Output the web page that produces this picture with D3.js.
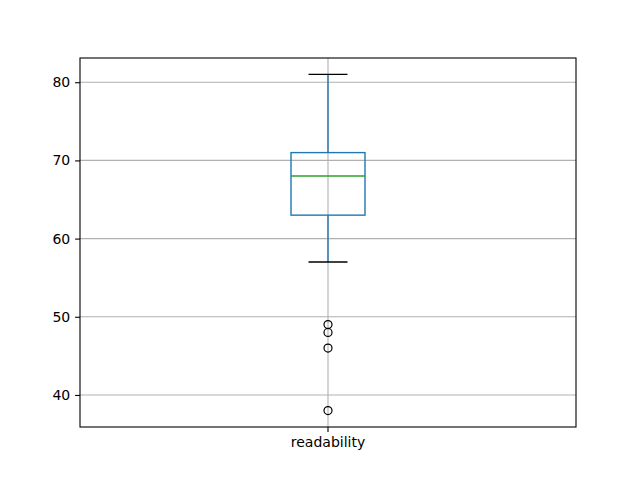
<!DOCTYPE html>
<html>
  <head>
    <meta charset="utf-8" />
    <title>readability boxplot</title>
    <script src="https://d3js.org/d3.v7.min.js"></script>
    <style>
      body { margin: 0; background: white; }
      text { font-family: "DejaVu Sans", sans-serif; font-size: 14px; fill: black; }
    </style>
  </head>
  <body>
    <svg id="viz"></svg>
    <script>

    // box stats
    var categories = ["readability"];
    var q1 = [63], median = [68], q3 = [71];
    var whiskerLow = [57], whiskerHigh = [81];
    var fliers = [[49, 48, 46, 38]];
    var yTicks = [40, 50, 60, 70, 80];

    var width = 640, height = 480;
    var margin = {top: 58, right: 64, bottom: 53, left: 80};

    var svg = d3.select("#viz")
      .attr("width", width)
      .attr("height", height);

    var x = d3.scaleBand()
      .domain(categories)
      .range([margin.left, width - margin.right]);

    var y = d3.scaleLinear()
      .domain([35.9, 83.1])
      .range([height - margin.bottom, margin.top]);

    var boxW = 74, capW = 39;

    // grid
    var grid = svg.append("g");
    grid.selectAll("line.h").data(yTicks).enter().append("line")
      .attr("x1", margin.left).attr("x2", width - margin.right)
      .attr("y1", function(d) { return y(d); }).attr("y2", function(d) { return y(d); })
      .attr("stroke", "#b0b0b0").attr("stroke-width", 1.1);
    grid.selectAll("line.v").data(categories).enter().append("line")
      .attr("x1", function(d) { return x(d) + x.bandwidth() / 2; })
      .attr("x2", function(d) { return x(d) + x.bandwidth() / 2; })
      .attr("y1", margin.top).attr("y2", height - margin.bottom)
      .attr("stroke", "#b0b0b0").attr("stroke-width", 1.1);

    var boxes = svg.selectAll("g.box").data(categories).enter().append("g")
      .attr("class", "box");

    boxes.each(function(c, i) {
      var g = d3.select(this);
      var cx = x(c) + x.bandwidth() / 2;

      // whiskers
      g.append("line").attr("x1", cx).attr("x2", cx)
        .attr("y1", y(q3[i])).attr("y2", y(whiskerHigh[i]))
        .attr("stroke", "#1f77b4").attr("stroke-width", 1.4);
      g.append("line").attr("x1", cx).attr("x2", cx)
        .attr("y1", y(q1[i])).attr("y2", y(whiskerLow[i]))
        .attr("stroke", "#1f77b4").attr("stroke-width", 1.4);

      // caps
      [whiskerLow[i], whiskerHigh[i]].forEach(function(v) {
        g.append("line").attr("x1", cx - capW / 2).attr("x2", cx + capW / 2)
          .attr("y1", y(v)).attr("y2", y(v))
          .attr("stroke", "black").attr("stroke-width", 1.4);
      });

      // box
      g.append("rect")
        .attr("x", cx - boxW / 2).attr("width", boxW)
        .attr("y", y(q3[i])).attr("height", y(q1[i]) - y(q3[i]))
        .attr("fill", "none").attr("stroke", "#1f77b4").attr("stroke-width", 1.4);

      // median
      g.append("line").attr("x1", cx - boxW / 2).attr("x2", cx + boxW / 2)
        .attr("y1", y(median[i])).attr("y2", y(median[i]))
        .attr("stroke", "#2ca02c").attr("stroke-width", 1.4);

      // fliers
      g.selectAll("circle").data(fliers[i]).enter().append("circle")
        .attr("cx", cx).attr("cy", function(d) { return y(d); })
        .attr("r", 4)
        .attr("fill", "none").attr("stroke", "black").attr("stroke-width", 1.2);
    });

    // axes
    svg.append("g")
      .attr("transform", "translate(" + margin.left + ",0)")
      .call(d3.axisLeft(y).tickValues(yTicks).tickSize(4.9).tickPadding(4.9));
    svg.append("g")
      .attr("transform", "translate(0," + (height - margin.bottom) + ")")
      .call(d3.axisBottom(x).tickSize(4.9).tickPadding(4.9));
    svg.selectAll(".domain").remove();
    svg.selectAll(".tick line").attr("stroke", "black").attr("stroke-width", 1.1);
    svg.selectAll(".tick text").style("font-family", "DejaVu Sans").style("font-size", "14px").attr("fill", "black");

    // frame
    svg.append("rect")
      .attr("x", margin.left).attr("y", margin.top)
      .attr("width", width - margin.left - margin.right)
      .attr("height", height - margin.top - margin.bottom)
      .attr("fill", "none").attr("stroke", "black").attr("stroke-width", 1.1);

    </script>
  </body>
</html>
